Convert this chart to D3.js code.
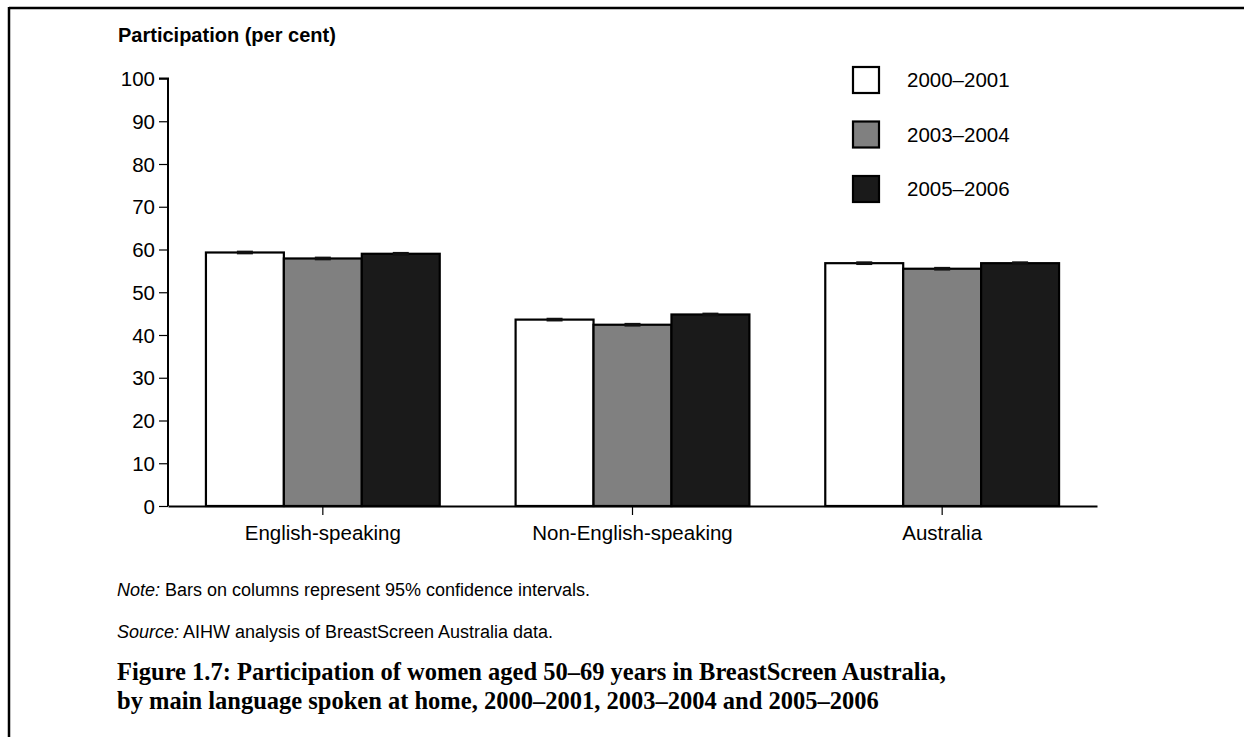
<!DOCTYPE html>
<html>
<head>
<meta charset="utf-8">
<script src="https://cdn.jsdelivr.net/npm/d3@7/dist/d3.min.js"></script>
<style>
  body { margin: 0; background: #fff; }
  svg text { font-family: Arial, "Liberation Sans", sans-serif; fill: #000; }
  .note { font-family: "Liberation Sans Narrow", "Arial Narrow", Arial, "Liberation Sans", sans-serif; }
  .caption { font-family: "Palatino Linotype", "Book Antiqua", "Liberation Serif", serif; font-weight: bold; }
</style>
</head>
<body>
<div class="chart"></div>
<script>
// Chart data
var categories = ["English-speaking", "Non-English-speaking", "Australia"];
var periods = ["2000\u20132001", "2003\u20132004", "2005\u20132006"];
var values2000 = [59.3, 43.6, 56.8];
var values2003 = [57.9, 42.4, 55.5];
var values2005 = [59.0, 44.8, 56.8];
var ciHalf = [0.2, 0.2, 0.2];
var yTicks = [0, 10, 20, 30, 40, 50, 60, 70, 80, 90, 100];
var fills = ["#ffffff", "#808080", "#1a1a1a"];

var seriesValues = [values2000, values2003, values2005];

var svgWidth = 1244;
var svgHeight = 737;

var svg = d3.select(".chart")
  .append("svg")
  .attr("width", svgWidth)
  .attr("height", svgHeight);

// frame (top and left edges only)
svg.append("line").attr("x1", 9).attr("x2", svgWidth).attr("y1", 8).attr("y2", 8)
  .attr("stroke", "#000").attr("stroke-width", 2.5);
svg.append("line").attr("x1", 9).attr("x2", 9).attr("y1", 7).attr("y2", svgHeight)
  .attr("stroke", "#000").attr("stroke-width", 2.5);

var x0 = d3.scaleBand()
  .domain(categories)
  .range([168, 1097])
  .paddingInner(0.245)
  .paddingOuter(0.1225);

var x1 = d3.scaleBand()
  .domain(periods)
  .range([0, x0.bandwidth()]);

var y = d3.scaleLinear().domain([0, 100]).range([506, 78.5]);

// y axis
var yAxis = svg.append("g")
  .attr("transform", "translate(168,0)")
  .call(d3.axisLeft(y).tickValues(yTicks).tickSize(9).tickPadding(4));
yAxis.select(".domain").attr("stroke-width", 2).attr("d", "M-9," + y(100) + "H0V" + y(0));
yAxis.selectAll(".tick line").attr("stroke-width", 1.2);
yAxis.selectAll(".tick text").style("font-size", "20.5px").attr("dy", "0.35em");

// bars
var groups = svg.selectAll("g.group")
  .data(categories)
  .enter()
  .append("g")
  .attr("class", "group")
  .attr("transform", function(d) { return "translate(" + x0(d) + ",0)"; });

groups.selectAll("rect")
  .data(function(d, i) {
    return periods.map(function(p, j) {
      return { period: p, value: seriesValues[j][i], ci: ciHalf[i], fill: fills[j] };
    });
  })
  .enter()
  .append("rect")
  .attr("x", function(d) { return x1(d.period); })
  .attr("width", x1.bandwidth())
  .attr("y", function(d) { return y(d.value); })
  .attr("height", function(d) { return y(0) - y(d.value); })
  .attr("fill", function(d) { return d.fill; })
  .attr("stroke", "#000")
  .attr("stroke-width", 2.2);

// confidence interval marks
groups.selectAll("g.ci")
  .data(function(d, i) {
    return periods.map(function(p, j) {
      return { period: p, value: seriesValues[j][i], ci: ciHalf[i] };
    });
  })
  .enter()
  .append("g")
  .attr("class", "ci")
  .each(function(d) {
    var g = d3.select(this);
    var cx = x1(d.period) + x1.bandwidth() / 2;
    [d.value - d.ci, d.value + d.ci].forEach(function(v) {
      g.append("line")
        .attr("x1", cx - 8).attr("x2", cx + 8)
        .attr("y1", y(v)).attr("y2", y(v))
        .attr("stroke", "#111").attr("stroke-width", 2);
    });
    g.append("line")
      .attr("x1", cx).attr("x2", cx)
      .attr("y1", y(d.value - d.ci)).attr("y2", y(d.value + d.ci))
      .attr("stroke", "#111").attr("stroke-width", 1.5);
  });

// x axis
var xAxis = svg.append("g")
  .attr("transform", "translate(0," + y(0) + ")")
  .call(d3.axisBottom(x0).tickSize(9).tickPadding(10).tickSizeOuter(0));
xAxis.select(".domain").attr("stroke-width", 2);
xAxis.selectAll(".tick line").attr("stroke-width", 1.2);
xAxis.selectAll(".tick text").style("font-size", "20.5px");

// y axis title
svg.append("text")
  .attr("x", 118)
  .attr("y", 42)
  .style("font-size", "20px")
  .style("font-weight", "bold")
  .text("Participation (per cent)");

// legend
var legend = svg.selectAll("g.legend")
  .data(periods)
  .enter()
  .append("g")
  .attr("class", "legend")
  .attr("transform", function(d, i) { return "translate(853," + (67 + i * 54.5) + ")"; });

legend.append("rect")
  .attr("width", 26)
  .attr("height", 26)
  .attr("fill", function(d, i) { return fills[i]; })
  .attr("stroke", "#000")
  .attr("stroke-width", 2.2);

legend.append("text")
  .attr("x", 54)
  .attr("y", 13)
  .attr("dy", "0.35em")
  .style("font-size", "20.5px")
  .text(function(d) { return d; });

// notes
var note = svg.append("text").attr("class", "note").attr("x", 117).attr("y", 596)
  .style("font-size", "18px")
  .attr("textLength", 473).attr("lengthAdjust", "spacingAndGlyphs");
note.append("tspan").style("font-style", "italic").text("Note:");
note.append("tspan").text(" Bars on columns represent 95% confidence intervals.");

var source = svg.append("text").attr("class", "note").attr("x", 117).attr("y", 638)
  .style("font-size", "18px")
  .attr("textLength", 436).attr("lengthAdjust", "spacingAndGlyphs");
source.append("tspan").style("font-style", "italic").text("Source:");
source.append("tspan").text(" AIHW analysis of BreastScreen Australia data.");

// caption
svg.append("text")
  .attr("class", "caption")
  .attr("x", 117)
  .attr("y", 680)
  .style("font-size", "24.5px")
  .text("Figure 1.7: Participation of women aged 50\u201369 years in BreastScreen Australia,");
svg.append("text")
  .attr("class", "caption")
  .attr("x", 117)
  .attr("y", 709)
  .style("font-size", "24.5px")
  .text("by main language spoken at home, 2000\u20132001, 2003\u20132004 and 2005\u20132006");
</script>
</body>
</html>
